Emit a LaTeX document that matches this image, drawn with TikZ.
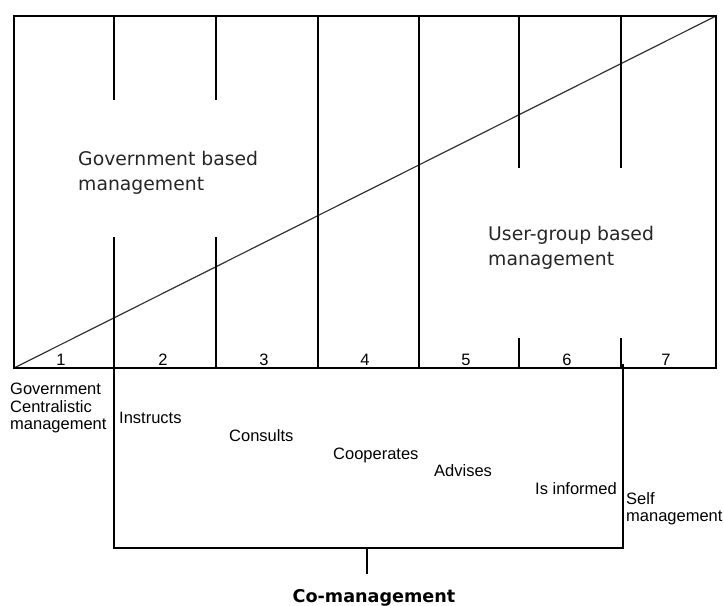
\documentclass[tikz,border=0pt]{standalone}
\usepackage{fontspec}
\setmainfont{Liberation Sans}
\newfontfamily\dejavu{DejaVu Sans}
\begin{document}
\begin{tikzpicture}[x=1pt,y=-1pt,
  frame/.style={line width=1.3pt,black},
  diag/.style={line width=1.2pt,black!80},
  lbl/.style={font=\fontsize{16.5}{17.5}\selectfont,inner sep=0pt,align=left},
  big/.style={font=\dejavu\fontsize{18.8}{25}\selectfont,inner sep=0pt,align=left,text=black!85},
  num/.style={font=\fontsize{16.5}{18}\selectfont,inner sep=0pt}]
\useasboundingbox (0,0) rectangle (724,606);
% frame
\coordinate (tl) at (14,16);
\coordinate (br) at (716,368);
\draw[diag] (14,368) -- (716,16);
\draw[frame] (tl) rectangle (br);
% full verticals
\foreach \x in {318,419}{\draw[frame] (\x,16) -- (\x,368);}
% partial verticals (left)
\foreach \x in {114,216}{\draw[frame] (\x,16) -- (\x,100); \draw[frame] (\x,237) -- (\x,368);}
% partial verticals (right)
\foreach \x in {519,621}{\draw[frame] (\x,16) -- (\x,168); \draw[frame] (\x,338) -- (\x,368);}
% bracket
\coordinate (bl) at (114,368);
\coordinate (bll) at (114,548);
\coordinate (brl) at (623,548);
\coordinate (bru) at (623,364);
\draw[frame] (bl) -- (bll) -- (brl) -- (bru);
\coordinate (stemtop) at (367,548);
\coordinate (stembot) at (367,574);
\draw[frame] (stemtop) -- (stembot);
% numbers
\foreach \n/\x in {1/61,2/163,3/264,4/365,5/466,6/567,7/666}{\node[num,anchor=base] (n\n) at (\x,365) {\n};}
% big labels
\node[big,anchor=north west] (gov) at (78,151) {Government based\\management};
\node[big,anchor=north west] (user) at (488,226) {User-group based\\management};
% bottom labels
\node[lbl,anchor=north west] (cent) at (10,383) {Government\\Centralistic\\management};
\node[lbl,anchor=base west] (instr) at (119,423) {Instructs};
\node[lbl,anchor=base west] (cons) at (229,441) {Consults};
\node[lbl,anchor=base west] (coop) at (333,459) {Cooperates};
\node[lbl,anchor=base west] (adv) at (434,476) {Advises};
\node[lbl,anchor=base west] (inf) at (535,494) {Is informed};
\node[lbl,anchor=north west] (self) at (626,492) {Self\\management};
\node[font=\dejavu\bfseries\fontsize{17.6}{20}\selectfont,inner sep=0pt,anchor=base] (co) at (374,602) {Co-management};
\end{tikzpicture}
\end{document}
